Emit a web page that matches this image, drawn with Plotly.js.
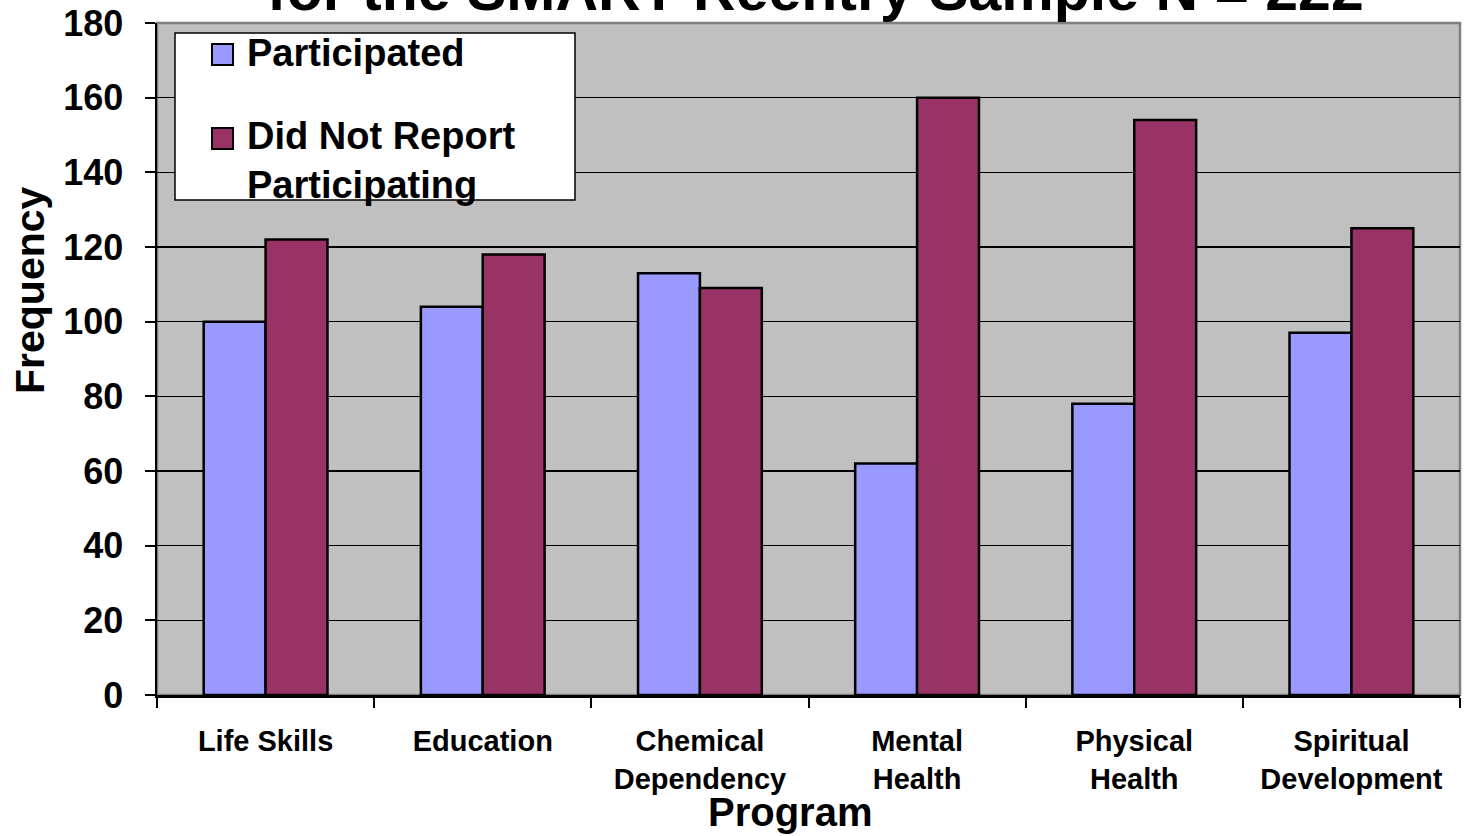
<!DOCTYPE html>
<html>
<head>
<meta charset="utf-8">
<script src="https://cdn.plot.ly/plotly-3.0.1.min.js"></script>
<style>
  html, body { margin: 0; padding: 0; background: #ffffff; }
  #chart { width: 1474px; height: 836px; }
</style>
</head>
<body>
<div id="chart"></div>
<script>
// Program participation counts for the reentry sample
const programs = [
  'Life Skills',
  'Education',
  'Chemical<br>Dependency',
  'Mental<br>Health',
  'Physical<br>Health',
  'Spiritual<br>Development'
];
const participated = [100, 104, 113, 62, 78, 97];
const notReported = [122, 118, 109, 160, 154, 125];
const yTicks = [0, 20, 40, 60, 80, 100, 120, 140, 160, 180];
const seriesNames = ['Participated', 'Did Not Report<br>Participating'];
const seriesColors = ['#9999FF', '#993366'];

const FONT = 'Liberation Sans, Arial, sans-serif';

// page geometry, used to place the boxed key in pixel terms
const W = 1474, H = 836;
const M = { l: 157, r: 14, t: 23, b: 141 };
const plotW = W - M.l - M.r, plotH = H - M.t - M.b;
const px = function (x) { return (x - M.l) / plotW; };
const py = function (y) { return (H - M.b - y) / plotH; };

const traces = [
  {
    type: 'bar',
    name: seriesNames[0],
    x: programs,
    y: participated,
    marker: { color: seriesColors[0], line: { color: '#000000', width: 2.5 } }
  },
  {
    type: 'bar',
    name: seriesNames[1],
    x: programs,
    y: notReported,
    marker: { color: seriesColors[1], line: { color: '#000000', width: 2.5 } }
  }
];

// boxed key in the upper-left corner of the plot
const keyShapes = [
  { type: 'rect', xref: 'paper', yref: 'paper',
    x0: px(175), x1: px(575), y0: py(200), y1: py(33),
    fillcolor: '#ffffff', line: { color: '#000000', width: 1.5 }, layer: 'above' },
  { type: 'rect', xref: 'paper', yref: 'paper',
    x0: px(212), x1: px(233), y0: py(65), y1: py(44),
    fillcolor: seriesColors[0], line: { color: '#000000', width: 2 }, layer: 'above' },
  { type: 'rect', xref: 'paper', yref: 'paper',
    x0: px(212), x1: px(233), y0: py(149), y1: py(128),
    fillcolor: seriesColors[1], line: { color: '#000000', width: 2 }, layer: 'above' }
];
const keyLabels = [
  { xref: 'paper', yref: 'paper', x: px(245), y: py(53),
    xanchor: 'left', yanchor: 'middle', align: 'left', showarrow: false,
    text: seriesNames[0],
    font: { family: FONT, size: 38, weight: 'bold', color: '#000000' } },
  { xref: 'paper', yref: 'paper', x: px(245), y: py(160),
    xanchor: 'left', yanchor: 'middle', align: 'left', showarrow: false,
    text: seriesNames[1],
    font: { family: FONT, size: 38, weight: 'bold', color: '#000000' } }
];

const layout = {
  width: W,
  height: H,
  paper_bgcolor: '#ffffff',
  plot_bgcolor: '#C0C0C0',
  margin: { l: M.l, r: M.r, t: M.t, b: M.b, pad: 0 },
  barmode: 'group',
  bargap: 0.43,
  bargroupgap: 0,
  font: { family: FONT, color: '#000000' },
  showlegend: false,
  xaxis: {
    type: 'category',
    tickson: 'boundaries',
    ticks: 'outside',
    ticklen: 10,
    tickwidth: 2,
    tickcolor: '#000000',
    ticklabelstandoff: 19,
    showline: true,
    linecolor: '#000000',
    linewidth: 2.5,
    showgrid: false,
    tickfont: { family: FONT, size: 29, weight: 'bold', color: '#000000' },
    fixedrange: true
  },
  yaxis: {
    range: [0, 180],
    tickvals: yTicks,
    ticks: 'outside',
    ticklen: 10,
    tickwidth: 2,
    tickcolor: '#000000',
    ticklabelstandoff: 14,
    showline: true,
    linecolor: '#000000',
    linewidth: 2.5,
    showgrid: true,
    gridcolor: '#000000',
    gridwidth: 1.5,
    zeroline: false,
    tickfont: { family: FONT, size: 36, weight: 'bold', color: '#000000' },
    fixedrange: true
  },
  shapes: [
    {
      type: 'rect', xref: 'paper', yref: 'paper',
      x0: 0, x1: 1, y0: 0, y1: 1,
      line: { color: '#808080', width: 2.5 },
      layer: 'below'
    }
  ].concat(keyShapes),
  annotations: [
    {
      // chart title (second line)
      xref: 'paper', yref: 'paper',
      x: 0.505, y: 1,
      yshift: -2,
      xanchor: 'center', yanchor: 'bottom',
      showarrow: false,
      text: 'for the SMART Reentry Sample N = 222',
      font: { family: FONT, size: 59, weight: 'bold', color: '#000000' }
    },
    {
      // y-axis title
      xref: 'paper', yref: 'paper',
      x: 0, y: py(290),
      xshift: -127,
      xanchor: 'center', yanchor: 'middle',
      textangle: -90,
      showarrow: false,
      text: 'Frequency',
      font: { family: FONT, size: 41, weight: 'bold', color: '#000000' }
    },
    {
      // x-axis title
      xref: 'paper', yref: 'paper',
      x: px(790), y: py(836),
      xanchor: 'center', yanchor: 'bottom',
      showarrow: false,
      text: 'Program',
      font: { family: FONT, size: 40, weight: 'bold', color: '#000000' }
    }
  ].concat(keyLabels)
};

Plotly.newPlot('chart', traces, layout, { displayModeBar: false, staticPlot: true });
</script>
</body>
</html>
